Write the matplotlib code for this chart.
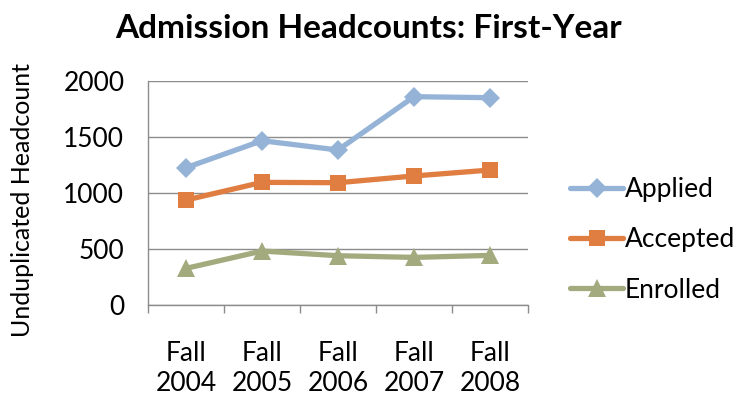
import matplotlib.pyplot as plt
from matplotlib.lines import Line2D

plt.rcParams['font.family'] = ['Lato', 'DejaVu Sans']

years = ['Fall\n2004', 'Fall\n2005', 'Fall\n2006', 'Fall\n2007', 'Fall\n2008']
applied = [1226, 1467, 1384, 1860, 1851]
accepted = [937, 1095, 1092, 1152, 1205]
enrolled = [327, 482, 440, 425, 443]

series = [
    ('Applied', applied, '#95B3D7', 'D', 10),
    ('Accepted', accepted, '#E07E42', 's', 12),
    ('Enrolled', enrolled, '#A3AB7E', '^', 13),
]

fig = plt.figure(figsize=(7.52, 4.0), dpi=100)
ax = fig.add_axes([148 / 752, 95 / 400, 380 / 752, 224 / 400])

x = list(range(len(years)))
for name, vals, color, marker, ms in series:
    ax.plot(x, vals, color=color, linewidth=3.8, marker=marker, markersize=ms,
            markeredgewidth=0, solid_capstyle='round', label=name)

ax.set_xlim(-0.5, len(years) - 0.5)
ax.set_ylim(0, 2000)
ax.set_yticks([0, 500, 1000, 1500, 2000])
ax.yaxis.grid(True, color='#8c8c8c', linewidth=1)
ax.set_axisbelow(True)
ax.tick_params(axis='y', length=0, labelsize=19, pad=17)

ax.set_xticks(x)
ax.set_xticklabels(years, fontsize=19, linespacing=1.25)
ax.set_xticks([i - 0.5 for i in range(len(years) + 1)], minor=True)
ax.tick_params(axis='x', which='major', length=0, pad=26)
ax.tick_params(axis='x', which='minor', length=6, color='#8c8c8c', width=1, direction='out')

for side in ['top', 'right']:
    ax.spines[side].set_visible(False)
for side in ['left', 'bottom']:
    ax.spines[side].set_color('#8c8c8c')
    ax.spines[side].set_linewidth(1)

ax.set_ylabel('Unduplicated Headcount', fontsize=18)
ax.yaxis.set_label_coords(-0.30, 0.47)

fig.text(0.49, 0.93, 'Admission Headcounts: First-Year', ha='center', va='center',
         fontsize=24, fontweight='bold')

handles = [Line2D([0], [0], color=c, linewidth=3.8, marker=m, markersize=ms,
                  markeredgewidth=0, solid_capstyle='round')
           for _, _, c, m, ms in series]
fig.legend(handles, [s[0] for s in series], loc='center left',
           bbox_to_anchor=(0.727, 0.4), frameon=False, fontsize=19,
           handlelength=2.0, handletextpad=0.05, labelspacing=0.95)

fig.savefig('out.png', dpi=100)
